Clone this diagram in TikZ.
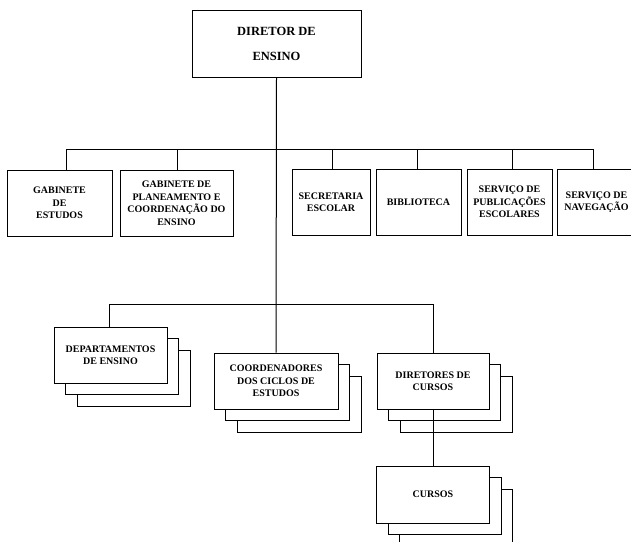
\documentclass[tikz,border=0pt]{standalone}
\usepackage{fontspec}
\setmainfont{Liberation Serif}
\usetikzlibrary{positioning,shadows}

\begin{document}
\begin{tikzpicture}[x=1pt,y=-1pt,
  line width=1pt,
  box/.style={draw,fill=white,inner sep=0pt,align=center,
    font=\bfseries\fontsize{10}{12.5}\selectfont},
  bigbox/.style={box,font=\bfseries\fontsize{12.5}{25}\selectfont},
  size/.style 2 args={minimum width=#1pt,minimum height=#2pt},
  stackbox/.style={box,
    general shadow={shadow xshift=23pt,shadow yshift=-23pt,draw,fill=white},
    general shadow={shadow xshift=11.5pt,shadow yshift=-11.5pt,draw,fill=white}}
]
\clip (0,0) rectangle (631,541);

% Director
\node[bigbox,size={169}{67}] (dirE) at (276.5,43.5) {DIRETOR DE\\ENSINO};

% First row
\node[box,size={105}{66}] (gab) at (59.5,203) {GABINETE\\DE\\ESTUDOS};
\node[box,size={113}{66}] (plan) at (176.5,203) {GABINETE DE\\PLANEAMENTO E\\COORDENAÇÃO DO\\ENSINO};
\node[box,size={78}{66}] (sec) at (331,202) {SECRETARIA\\ESCOLAR};
\node[box,size={85}{66}] (bib) at (418.5,202) {BIBLIOTECA};
\node[box,size={85}{66}] (pub) at (509.5,202) {SERVIÇO DE\\PUBLICAÇÕES\\ESCOLARES};
\node[box,size={79}{66}] (nav) at (596.5,202) {SERVIÇO DE\\NAVEGAÇÃO};

% Second row
\node[stackbox,size={113}{56}] (dep) at (110.5,355) {DEPARTAMENTOS\\DE ENSINO};
\node[stackbox,size={124}{56}] (coord) at (276,381) {COORDENADORES\\DOS CICLOS DE\\ESTUDOS};
\node[stackbox,size={112}{56}] (dirC) at (433,381) {DIRETORES DE\\CURSOS};
\node[stackbox,size={113}{57}] (cur) at (433,494.5) {CURSOS};

% Edges
\draw (dirE.south) -- (coord.north);
\foreach \x/\n in {66/gab,177/plan,332/sec,417/bib,512/pub,593/nav}
  \coordinate (t-\n) at (\x,149);
\draw (t-gab) -- (t-nav);
\foreach \n in {gab,plan,sec,bib,pub,nav}
  \draw (t-\n) -- (t-\n |- \n.north);
\coordinate (b-dep) at (109,304);
\coordinate (b-dirC) at (dirC.north |- b-dep);
\draw (b-dep) -- (b-dirC);
\draw (b-dep) -- (b-dep |- dep.north);
\draw (b-dirC) -- (dirC.north);
\draw (dirC.south) -- (cur.north);
\end{tikzpicture}
\end{document}
